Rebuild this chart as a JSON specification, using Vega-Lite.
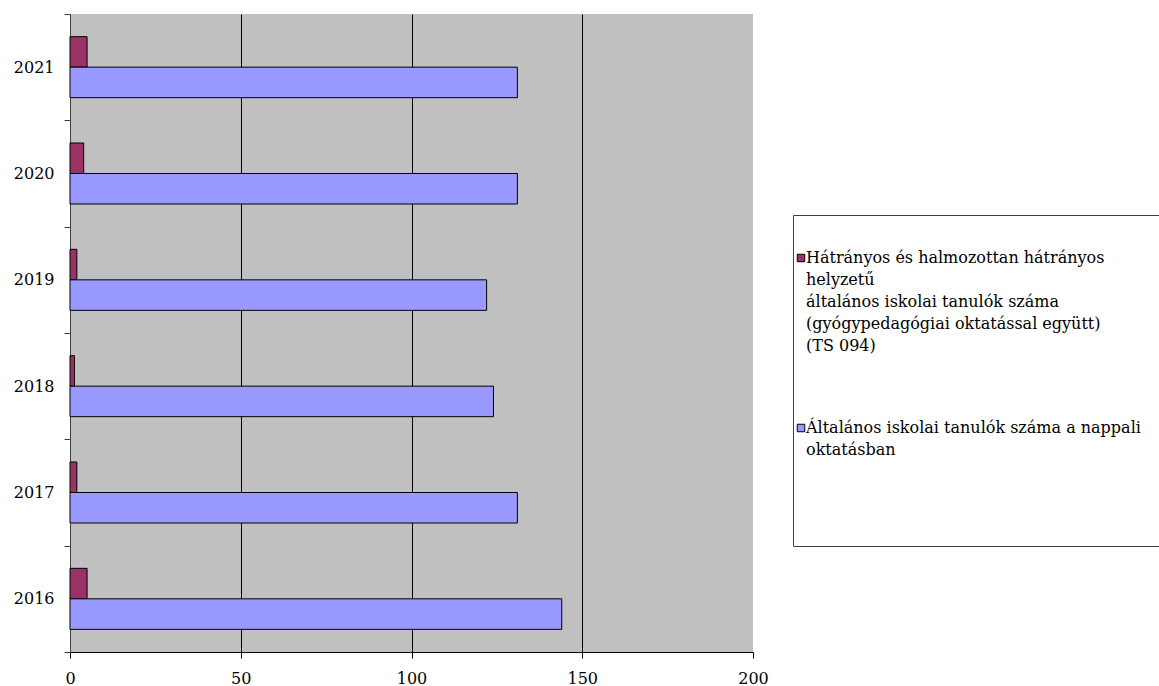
{
  "$schema": "https://vega.github.io/schema/vega-lite/v6.json",
  "autosize": {"type": "none"},
  "width": 683,
  "height": 638,
  "padding": {"left": 70, "top": 14, "right": 406, "bottom": 34},
  "background": "white",
  "config": {
    "view": {"stroke": null, "fill": "#C0C0C0"},
    "font": "DejaVu Serif"
  },
  "data": {
    "values": [
      {"year": "2016", "series": "Hátrányos és halmozottan hátrányos helyzetű általános iskolai tanulók száma (gyógypedagógiai oktatással együtt) (TS 094)", "value": 5},
      {"year": "2017", "series": "Hátrányos és halmozottan hátrányos helyzetű általános iskolai tanulók száma (gyógypedagógiai oktatással együtt) (TS 094)", "value": 2},
      {"year": "2018", "series": "Hátrányos és halmozottan hátrányos helyzetű általános iskolai tanulók száma (gyógypedagógiai oktatással együtt) (TS 094)", "value": 1.3},
      {"year": "2019", "series": "Hátrányos és halmozottan hátrányos helyzetű általános iskolai tanulók száma (gyógypedagógiai oktatással együtt) (TS 094)", "value": 2},
      {"year": "2020", "series": "Hátrányos és halmozottan hátrányos helyzetű általános iskolai tanulók száma (gyógypedagógiai oktatással együtt) (TS 094)", "value": 4},
      {"year": "2021", "series": "Hátrányos és halmozottan hátrányos helyzetű általános iskolai tanulók száma (gyógypedagógiai oktatással együtt) (TS 094)", "value": 5},
      {"year": "2016", "series": "Általános iskolai tanulók száma a nappali oktatásban", "value": 144},
      {"year": "2017", "series": "Általános iskolai tanulók száma a nappali oktatásban", "value": 131},
      {"year": "2018", "series": "Általános iskolai tanulók száma a nappali oktatásban", "value": 124},
      {"year": "2019", "series": "Általános iskolai tanulók száma a nappali oktatásban", "value": 122},
      {"year": "2020", "series": "Általános iskolai tanulók száma a nappali oktatásban", "value": 131},
      {"year": "2021", "series": "Általános iskolai tanulók száma a nappali oktatásban", "value": 131}
    ]
  },
  "mark": {"type": "bar", "stroke": "#000000", "strokeWidth": 1},
  "encoding": {
    "y": {
      "field": "year",
      "type": "nominal",
      "sort": "descending",
      "scale": {"paddingInner": 0, "paddingOuter": 0},
      "axis": {
        "title": null,
        "tickBand": "extent",
        "domainColor": "#404040",
        "tickColor": "#404040",
        "tickSize": 6,
        "labelPadding": 10,
        "labelFontSize": 16,
        "labelColor": "#000000",
        "grid": false
      }
    },
    "yOffset": {
      "field": "series",
      "type": "nominal",
      "sort": [
        "Hátrányos és halmozottan hátrányos helyzetű általános iskolai tanulók száma (gyógypedagógiai oktatással együtt) (TS 094)",
        "Általános iskolai tanulók száma a nappali oktatásban"
      ],
      "scale": {"paddingInner": 0, "paddingOuter": 0.743}
    },
    "x": {
      "field": "value",
      "type": "quantitative",
      "scale": {"domain": [0, 200], "nice": false},
      "axis": {
        "title": null,
        "values": [0, 50, 100, 150, 200],
        "grid": true,
        "gridColor": "#000000",
        "gridOpacity": {"condition": {"test": "datum.value == 0 || datum.value == 200", "value": 0}, "value": 1},
        "domainColor": "#000000",
        "tickColor": "#000000",
        "tickSize": 6,
        "labelPadding": 12,
        "labelFontSize": 16,
        "labelColor": "#000000",
        "labelFlush": false
      }
    },
    "color": {
      "field": "series",
      "type": "nominal",
      "sort": [
        "Hátrányos és halmozottan hátrányos helyzetű általános iskolai tanulók száma (gyógypedagógiai oktatással együtt) (TS 094)",
        "Általános iskolai tanulók száma a nappali oktatásban"
      ],
      "scale": {"range": ["#993366", "#9999FF"]},
      "legend": {
        "orient": "none",
        "legendX": 723,
        "legendY": 201,
        "title": " ",
        "titleFontSize": 12,
        "titlePadding": 23,
        "padding": 0,
        "strokeColor": "#404040",
        "fillColor": "#FFFFFF",
        "symbolType": "square",
        "symbolSize": 56,
        "symbolStrokeColor": "#000000",
        "symbolStrokeWidth": 1,
        "labelFontSize": 16,
        "labelLimit": 500,
        "labelOffset": -3,
        "labelBaseline": "alphabetic",
        "labelColor": "#000000",
        "rowPadding": 66,
        "labelExpr": "datum.label == 'Általános iskolai tanulók száma a nappali oktatásban' ? ['Általános iskolai tanulók száma a nappali\u2800\u2800', 'oktatásban', '\u2800', '\u2800', '\u2800', '\u2800'] : ['Hátrányos és halmozottan hátrányos', 'helyzetű', ' általános iskolai tanulók száma', '(gyógypedagógiai oktatással együtt)', '(TS 094)']",
        "encode": {
          "labels": {"update": {"lineHeight": {"value": 22}, "dy": {"value": 5}}}
        }
      }
    }
  }
}
